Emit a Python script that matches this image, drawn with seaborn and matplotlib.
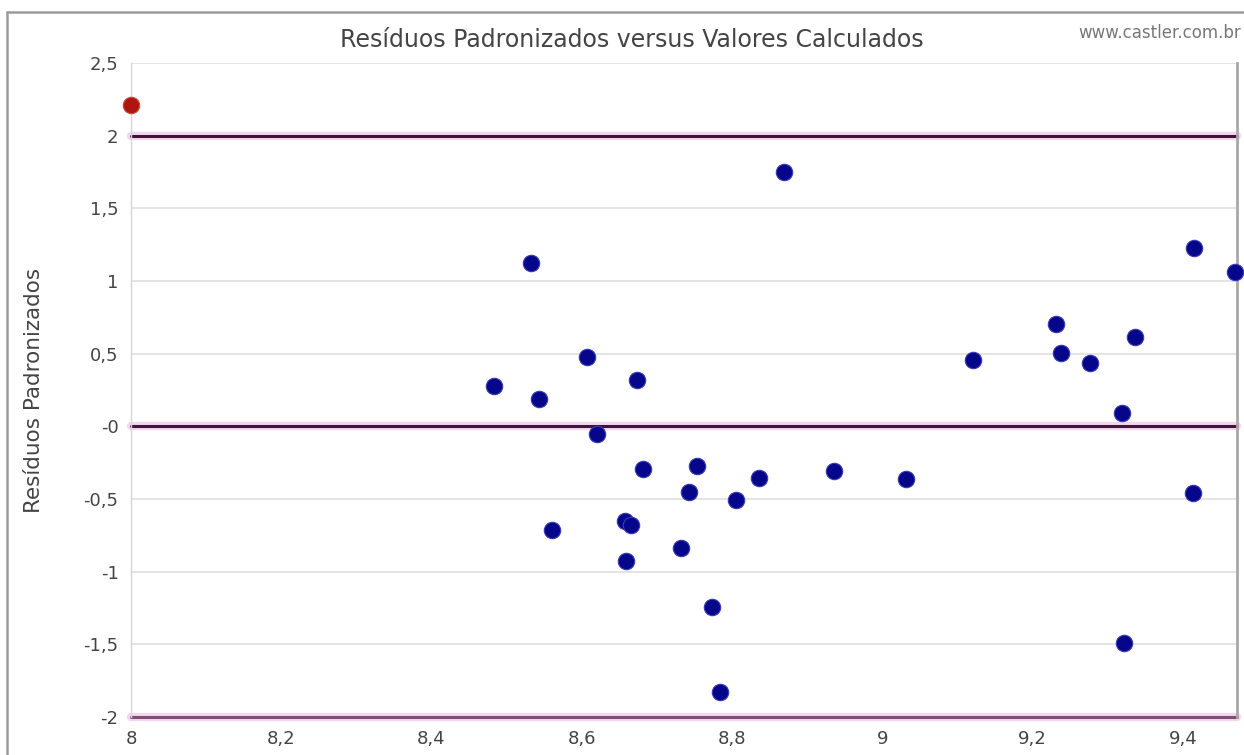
import numpy as np
import pandas as pd
import seaborn as sns
import matplotlib.pyplot as plt
from matplotlib.lines import Line2D

# --- Data ---
valores_calculados = [8.533, 8.483, 8.543, 8.607, 8.673, 8.620, 8.682, 8.753, 8.743, 8.836,
                      8.805, 8.935, 9.031, 8.560, 8.657, 8.666, 8.659, 8.732, 8.773, 8.784,
                      8.869, 9.415, 9.469, 9.231, 9.238, 9.276, 9.336, 9.120, 9.319, 9.413,
                      9.322]
residuos = [1.127, 0.279, 0.185, 0.474, 0.318, -0.054, -0.291, -0.272, -0.451, -0.358,
            -0.505, -0.309, -0.360, -0.714, -0.648, -0.678, -0.928, -0.839, -1.243, -1.828,
            1.753, 1.224, 1.059, 0.705, 0.508, 0.435, 0.614, 0.459, 0.091, -0.457,
            -1.491]

# point outside the +/-2 band (drawn in red)
outlier_x = [8.000]
outlier_y = [2.212]

limites = [2, 0, -2]

x_ticks = [8, 8.2, 8.4, 8.6, 8.8, 9, 9.2, 9.4]
x_tick_labels = ['8', '8,2', '8,4', '8,6', '8,8', '9', '9,2', '9,4']
y_ticks = [-2, -1.5, -1, -0.5, 0, 0.5, 1, 1.5, 2, 2.5]
y_tick_labels = ['-2', '-1,5', '-1', '-0,5', '-0', '0,5', '1', '1,5', '2', '2,5']

titulo = 'Resíduos Padronizados versus Valores Calculados'
y_label = 'Resíduos Padronizados'
site = 'www.castler.com.br'

# --- Build the frames ---
df = pd.DataFrame({'Valor': valores_calculados, 'Residuo': residuos})
df_fora = pd.DataFrame({'Valor': outlier_x, 'Residuo': outlier_y})

sns.set_style('white')
plt.rcParams['font.family'] = ['DejaVu Sans']

W, H = 1244, 755
fig = plt.figure(figsize=(W / 100, H / 100), dpi=100)
ax = fig.add_axes([131 / W, 1 - 717 / H, (1237 - 131) / W, (717 - 63) / H])

# horizontal grid
for yv in y_ticks:
    if yv not in limites:
        ax.axhline(yv, color='#e2e2e2', lw=1.3, zorder=0)

# +/-2 and 0 reference lines (with a soft pink halo)
for yv in limites:
    cor = '#7d4f73' if yv == -2 else '#3f1538'
    ax.axhline(yv, color='#f3d6ef', lw=6, zorder=1, clip_on=False)
    ax.axhline(yv, color=cor, lw=2.2, zorder=2, clip_on=False)

sns.scatterplot(data=df, x='Valor', y='Residuo', color='#06068a',
                s=140, edgecolor='#3a3ab5', linewidth=0.8,
                ax=ax, zorder=3, clip_on=False)
sns.scatterplot(data=df_fora, x='Valor', y='Residuo', color='#b01510',
                s=140, edgecolor='#d04a40', linewidth=0.8,
                ax=ax, zorder=3, clip_on=False)

ax.set_xlim(8, 9.472)
ax.set_ylim(-2, 2.5)
ax.set_xticks(x_ticks)
ax.set_xticklabels(x_tick_labels)
ax.set_yticks(y_ticks)
ax.set_yticklabels(y_tick_labels)
ax.tick_params(axis='both', labelsize=13, colors='#cccccc', labelcolor='#444444')
ax.tick_params(axis='x', length=5, width=1, pad=4)
ax.tick_params(axis='y', length=7, width=1, pad=2)
ax.set_xlabel('')
ax.set_ylabel(y_label, fontsize=15.5, color='#444444')
ax.yaxis.set_label_coords(-0.079, 0.5)

ax.spines['top'].set_visible(False)
ax.spines['bottom'].set_visible(False)
ax.spines['left'].set_color('#d6d6d6')
ax.spines['left'].set_linewidth(1)
ax.spines['right'].set_color('#a8a8a8')
ax.spines['right'].set_linewidth(2)

# title and site tag
fig.text(632 / W, 1 - 40 / H, titulo, ha='center', va='center', fontsize=17, color='#444444')
fig.text(1241 / W, 1 - 33 / H, site, ha='right', va='center', fontsize=12, color='#777777')

# outer frame of the chart container
fig.add_artist(Line2D([7 / W, 1], [1 - 12 / H, 1 - 12 / H], transform=fig.transFigure,
                      color='#9a9a9a', lw=1.8))
fig.add_artist(Line2D([7 / W, 7 / W], [0, 1 - 12 / H], transform=fig.transFigure,
                      color='#9a9a9a', lw=1.8))

fig.savefig('out.png', dpi=100)
plt.close(fig)
